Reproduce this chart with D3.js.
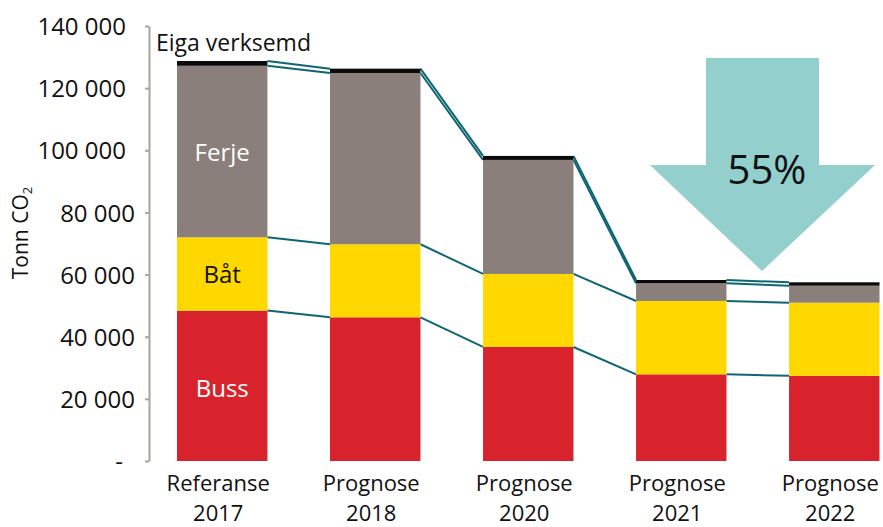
<!DOCTYPE html>
<html><head><meta charset="utf-8">
<script src="https://cdn.jsdelivr.net/npm/d3@7"></script>
<style>
body{margin:0;background:#fff;}
text{font-family:"Open Sans","Noto Sans",sans-serif;}
</style></head>
<body><svg id="c" width="883" height="527"></svg>
<script>
const catLine1 = ["Referanse","Prognose","Prognose","Prognose","Prognose"];
const catLine2 = ["2017","2018","2020","2021","2022"];
const seriesNames = ["Buss","Båt","Ferje","Eiga verksemd"];
const buss  = [48400, 46250, 36700, 27900, 27400];
const bat   = [23600, 23500, 23500, 23600, 23550];
const ferje = [55200, 55130, 36700, 5690, 5470];
const eiga  = [1540, 1390, 1285, 1060, 1090];
const yTicks = [0, 20000, 40000, 60000, 80000, 100000, 120000, 140000];
const reductionLabel = "55%";

const colors = ["#D8232D", "#FFD800", "#8A7F7A", "#0a0a0a"];
const lineColor = "#0F6673";

const svg = d3.select("#c");
const rows = catLine2.map((c, i) => ({cat: c, Buss: buss[i], "Båt": bat[i], Ferje: ferje[i], "Eiga verksemd": eiga[i]}));
const stack = d3.stack().keys(seriesNames)(rows);

const y = d3.scaleLinear().domain([0, 140000]).range([461, 26]);
const x = d3.scaleBand().domain(catLine2).range([177, 879.5]).paddingInner(0.409).paddingOuter(0);

// arrow annotation
svg.append("polygon")
  .attr("points", [[706,58],[819,58],[819,165],[875,165],[762,271],[650,165],[706,165]].map(p=>p.join(",")).join(" "))
  .attr("fill", "#93CFCD");
svg.append("text").attr("x", 767).attr("y", 184).attr("text-anchor","middle")
  .attr("font-size", 40).attr("fill","#111").attr("font-family","Roboto,sans-serif").text(reductionLabel);

// series lines
stack.forEach(s => {
  for (let i = 0; i < s.length - 1; i++) {
    svg.append("line")
      .attr("x1", x(catLine2[i]) + x.bandwidth()).attr("y1", y(s[i][1]))
      .attr("x2", x(catLine2[i+1])).attr("y2", y(s[i+1][1]))
      .attr("stroke", lineColor).attr("stroke-width", 2);
  }
});

// bars
stack.forEach((s, k) => {
  svg.append("g").selectAll("rect").data(s).join("rect")
    .attr("x", (d, i) => x(catLine2[i]))
    .attr("width", x.bandwidth())
    .attr("y", d => y(d[1]))
    .attr("height", d => y(d[0]) - y(d[1]))
    .attr("fill", colors[k]);
});

// labels inside first bar
const cx = x(catLine2[0]) + x.bandwidth()/2;
const labelInfo = [["Buss", "#fff"], ["Båt", "#111"], ["Ferje", "#fff"]];
const labelY = [396.5, 283, 161];
labelInfo.forEach((l, k) => {
  svg.append("text").attr("x", cx).attr("y", labelY[k]).attr("text-anchor","middle")
    .attr("font-size", 24).attr("fill", l[1]).text(l[0]);
});
svg.append("text").attr("x", 156).attr("y", 50.5).attr("font-size", 23).attr("fill","#111").text(seriesNames[3]);

// y axis
const fmt = v => v === 0 ? "-" : d3.format(",")(v).replace(/,/g, " ");
const yAxis = d3.axisLeft(y).tickValues(yTicks).tickFormat(fmt).tickSize(4).tickSizeOuter(0).tickPadding(10);
const ga = svg.append("g").attr("transform","translate(149,0)").call(yAxis);
ga.select(".domain").attr("stroke","#A9A4A0").attr("stroke-width",2);
ga.selectAll(".tick line").attr("stroke","#A9A4A0").attr("stroke-width",2);
ga.selectAll(".tick text").attr("font-size",24).attr("fill","#111")
  .attr("font-family","'Open Sans',sans-serif").attr("dy","0.36em")
  .attr("x", d => d >= 100000 ? -23 : (d === 0 ? -26 : -14));

// x labels
catLine2.forEach((c, i) => {
  const px = x(c) + x.bandwidth()/2 - 4;
  svg.append("text").attr("x", px).attr("y", 490.5).attr("text-anchor","middle")
    .attr("font-size", 22).attr("fill","#111").text(catLine1[i]);
  svg.append("text").attr("x", px).attr("y", 520.5).attr("text-anchor","middle")
    .attr("font-size", 22).attr("fill","#111").text(c);
});

// y title
const yt = svg.append("text").attr("transform","translate(28,233) rotate(-90)").attr("text-anchor","middle")
  .attr("font-size", 21).attr("fill","#111");
yt.append("tspan").text("Tonn CO");
yt.append("tspan").attr("font-size", 13).attr("dy", 4).text("2");
</script></body></html>
